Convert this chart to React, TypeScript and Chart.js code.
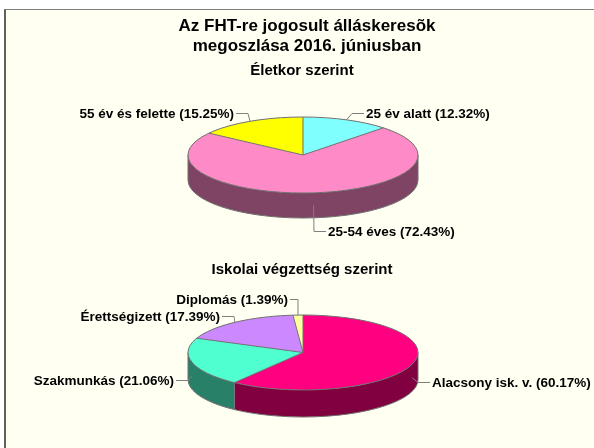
import React, { useEffect, useRef } from "react";
import { Chart, registerables } from "chart.js";

Chart.register(...registerables);

// ---------- data ----------
const titleLines = ["Az FHT-re jogosult álláskeresõk", "megoszlása 2016. júniusban"];
const ageSubtitle = "Életkor szerint";
const eduSubtitle = "Iskolai végzettség szerint";

const ageLabels = ["25 év alatt", "25-54 éves", "55 év és felette"];
const ageValues = [12.32, 72.43, 15.25];
const ageColors = ["#80FFFF", "#FF8AC8", "#FFFF00"];
const ageSideColors = ["#408080", "#7F4464", "#808000"];

const eduLabels = ["Alacsony isk. v.", "Szakmunkás", "Érettségizett", "Diplomás"];
const eduValues = [60.17, 21.06, 17.39, 1.39];
const eduColors = ["#FF0080", "#50FFD0", "#CC88FF", "#FFFFA0"];
const eduSideColors = ["#800040", "#288068", "#664480", "#808050"];

// ---------- layout ----------
const W = 594;
const H = 448;
const FONT = '"Liberation Sans", Arial, sans-serif';
const EDGE = "#707070";

const agePie = { cx: 303, cy: 155, r: 115, tilt: 38 / 115, depth: 25 };
const eduPie = { cx: 303, cy: 352.5, r: 115, tilt: 37.5 / 115, depth: 27 };

const ageLabelPos = [
  { x: 366, y: 113, align: "left" },
  { x: 328, y: 231, align: "left" },
  { x: 234, y: 113, align: "right" },
];
const eduLabelPos = [
  { x: 432, y: 382, align: "left" },
  { x: 174, y: 380, align: "right" },
  { x: 220, y: 316, align: "right" },
  { x: 288, y: 299, align: "right" },
];

const TWO_PI = Math.PI * 2;

function geom(chart: any, o: any) {
  const meta = chart.getDatasetMeta(0);
  const arcs = meta.data as any[];
  const a0 = arcs[0];
  const rx = a0.outerRadius;
  return { arcs, cx: a0.x, cyA: a0.y, rx, ry: rx * o.tilt, cy: o.cy, depth: o.depth };
}

const pie3d = {
  id: "pie3d",
  beforeDatasetsDraw(chart: any, _args: any, o: any) {
    const ctx = chart.ctx as CanvasRenderingContext2D;
    const { arcs, cx, cyA, rx, ry, cy, depth } = geom(chart, o);
    ctx.save();
    ctx.lineWidth = 1;
    ctx.strokeStyle = EDGE;
    arcs.forEach((arc: any, i: number) => {
      const s = arc.startAngle;
      const e = arc.endAngle;
      for (const shift of [-TWO_PI, 0, TWO_PI]) {
        const a1 = Math.max(s + shift, 0);
        const a2 = Math.min(e + shift, Math.PI);
        if (a2 > a1) {
          ctx.beginPath();
          ctx.ellipse(cx, cy, rx, ry, 0, a1, a2);
          ctx.lineTo(cx + rx * Math.cos(a2), cy + ry * Math.sin(a2) + depth);
          ctx.ellipse(cx, cy + depth, rx, ry, 0, a2, a1, true);
          ctx.closePath();
          ctx.fillStyle = o.sideColors[i];
          ctx.fill();
        }
      }
    });
    // outline of the side
    ctx.beginPath();
    ctx.moveTo(cx + rx, cy);
    ctx.lineTo(cx + rx, cy + depth);
    ctx.ellipse(cx, cy + depth, rx, ry, 0, 0, Math.PI);
    ctx.lineTo(cx - rx, cy);
    ctx.stroke();
    // transform for the elliptical top
    ctx.translate(0, cy);
    ctx.scale(1, o.tilt);
    ctx.translate(0, -cyA);
  },
  afterDatasetsDraw(chart: any, _args: any, o: any) {
    const ctx = chart.ctx as CanvasRenderingContext2D;
    ctx.restore();
    const { arcs, cx, rx, ry, cy } = geom(chart, o);
    ctx.save();
    ctx.lineWidth = 1;
    ctx.strokeStyle = EDGE;
    ctx.beginPath();
    ctx.ellipse(cx, cy, rx, ry, 0, 0, TWO_PI);
    ctx.stroke();
    arcs.forEach((arc: any) => {
      const a = arc.startAngle;
      ctx.beginPath();
      ctx.moveTo(cx, cy);
      ctx.lineTo(cx + rx * Math.cos(a), cy + ry * Math.sin(a));
      ctx.stroke();
    });
    ctx.restore();
  },
  afterDraw(chart: any, _args: any, o: any) {
    const ctx = chart.ctx as CanvasRenderingContext2D;
    const { arcs, cx, rx, ry, cy, depth } = geom(chart, o);
    const labels = chart.data.labels as string[];
    const values = chart.data.datasets[0].data as number[];
    ctx.save();
    ctx.font = `bold 13.5px ${FONT}`;
    ctx.textBaseline = "middle";
    arcs.forEach((arc: any, i: number) => {
      const pos = o.labelPos[i];
      const text = `${labels[i]} (${values[i].toFixed(2)}%)`;
      const mid = (arc.startAngle + arc.endAngle) / 2;
      const ax = cx + rx * Math.cos(mid);
      let ay = cy + ry * Math.sin(mid);
      if (Math.sin(mid) > 0) ay += depth / 2;
      const edge = pos.align === "left" ? pos.x - 2 : pos.x + 2;
      const dir = ax > edge ? 1 : -1;
      const kx = edge + dir * Math.min(12, Math.abs(ax - edge));
      ctx.strokeStyle = "#808080";
      ctx.lineWidth = 1;
      ctx.beginPath();
      ctx.moveTo(edge, pos.y + 0.5);
      ctx.lineTo(kx, pos.y + 0.5);
      ctx.lineTo(ax, ay);
      ctx.stroke();
      ctx.fillStyle = "#000";
      ctx.textAlign = pos.align;
      ctx.fillText(text, pos.x, pos.y + 1);
    });
    ctx.textAlign = "center";
    if (o.titles) {
      ctx.font = `bold 17px ${FONT}`;
      ctx.fillText(titleLines[0], 307, 26);
      ctx.fillText(titleLines[1], 307, 46);
    }
    ctx.font = `bold 15px ${FONT}`;
    ctx.fillText(o.subtitle, 302, o.subtitleY);
    ctx.restore();
  },
};

function makeConfig(labels: string[], values: number[], colors: string[], pie: any, extra: any) {
  return {
    type: "pie" as const,
    data: {
      labels,
      datasets: [{ data: values, backgroundColor: colors, borderWidth: 0 }],
    },
    options: {
      animation: false as const,
      responsive: false,
      devicePixelRatio: 1,
      events: [],
      layout: {
        padding: {
          left: pie.cx - pie.r,
          right: W - pie.cx - pie.r,
          top: 0,
          bottom: H - 2 * pie.r,
        },
      },
      plugins: {
        legend: { display: false },
        tooltip: { enabled: false },
        pie3d: { cy: pie.cy, tilt: pie.tilt, depth: pie.depth, ...extra },
      },
    },
    plugins: [pie3d],
  };
}

export default function App() {
  const ref1 = useRef<HTMLCanvasElement>(null);
  const ref2 = useRef<HTMLCanvasElement>(null);
  useEffect(() => {
    const c1 = new Chart(
      ref1.current as HTMLCanvasElement,
      makeConfig(ageLabels, ageValues, ageColors, agePie, {
        sideColors: ageSideColors,
        labelPos: ageLabelPos,
        titles: true,
        subtitle: ageSubtitle,
        subtitleY: 71,
      }) as any
    );
    const c2 = new Chart(
      ref2.current as HTMLCanvasElement,
      makeConfig(eduLabels, eduValues, eduColors, eduPie, {
        sideColors: eduSideColors,
        labelPos: eduLabelPos,
        titles: false,
        subtitle: eduSubtitle,
        subtitleY: 270,
      }) as any
    );
    return () => {
      c1.destroy();
      c2.destroy();
    };
  }, []);
  const cv: React.CSSProperties = { position: "absolute", left: 0, top: 0, width: W, height: H };
  return (
    <div style={{ position: "fixed", left: 0, top: 0, width: W, height: H, background: "#fff", overflow: "hidden" }}>
      <div
        style={{
          position: "absolute",
          left: 4,
          top: 9,
          width: 620,
          height: 460,
          background: "#FFFFF2",
          borderTop: "1px solid #808080",
          borderLeft: "2px solid #606060",
        }}
      />
      <canvas ref={ref1} width={W} height={H} style={cv} />
      <canvas ref={ref2} width={W} height={H} style={cv} />
    </div>
  );
}
